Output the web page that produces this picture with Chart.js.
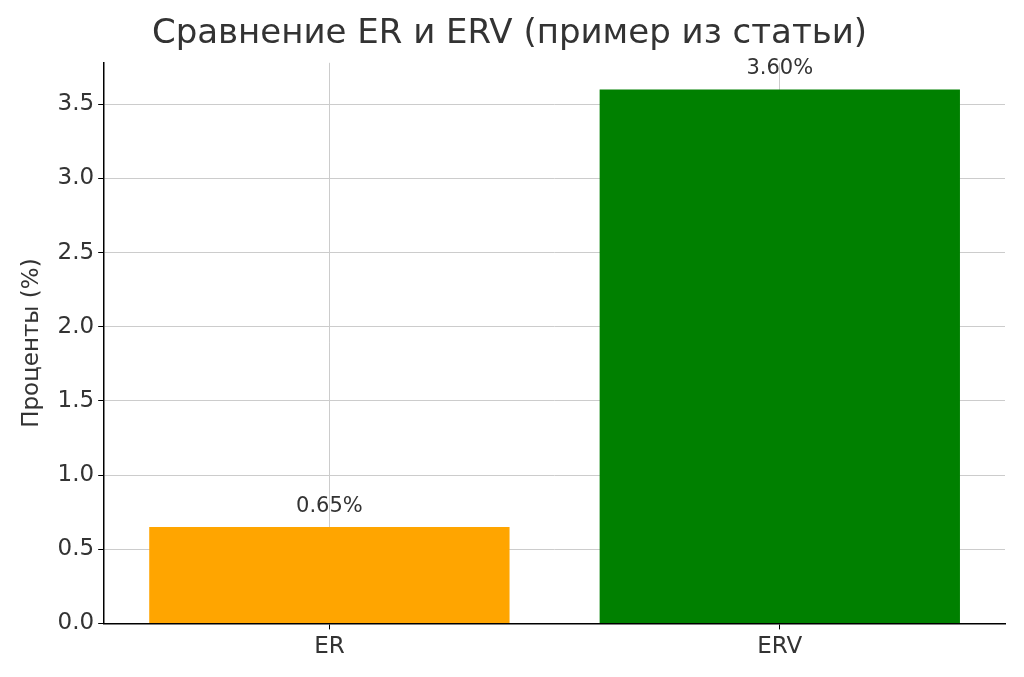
<!DOCTYPE html>
<html>
<head>
<meta charset="utf-8">
<script src="https://cdn.jsdelivr.net/npm/chart.js@4.4.0/dist/chart.umd.min.js"></script>
<style>
  html, body { margin: 0; padding: 0; background: #fff; }
  #wrap { width: 1024px; height: 677px; }
</style>
</head>
<body>
<div id="wrap"><canvas id="chart"></canvas></div>
<script>
const categories = ['ER', 'ERV'];
const values = [0.65, 3.60];
const barColors = ['#FFA500', '#008000'];
const yTicks = [0, 0.5, 1, 1.5, 2, 2.5, 3, 3.5];

// value labels above bars
const valueLabels = {
  id: 'valueLabels',
  afterDatasetsDraw(chart) {
    const ctx = chart.ctx;
    const meta = chart.getDatasetMeta(0);
    ctx.save();
    ctx.font = '21px "DejaVu Sans"';
    ctx.fillStyle = '#333';
    ctx.textAlign = 'center';
    ctx.textBaseline = 'bottom';
    meta.data.forEach((bar, i) => {
      ctx.fillText(values[i].toFixed(2) + '%', bar.x, bar.y - 10);
    });
    ctx.restore();
  }
};

new Chart(document.getElementById('chart'), {
  type: 'bar',
  data: {
    labels: categories,
    datasets: [{
      data: values,
      backgroundColor: barColors,
      categoryPercentage: 1,
      barPercentage: 0.8
    }]
  },
  options: {
    responsive: true,
    maintainAspectRatio: false,
    animation: false,
    layout: { padding: { top: 14, right: 19, left: 14, bottom: 12 } },
    plugins: {
      legend: { display: false },
      tooltip: { enabled: false },
      title: {
        display: true,
        text: 'Сравнение ER и ERV (пример из статьи)',
        color: '#333',
        font: { family: 'DejaVu Sans', size: 34, weight: 'normal' },
        padding: { top: 0, bottom: 8 }
      }
    },
    scales: {
      x: {
        grid: { offset: false, color: '#ccc', tickColor: '#000', tickLength: 6 },
        border: { color: '#000', width: 1.5 },
        ticks: { color: '#333', font: { family: 'DejaVu Sans', size: 23 }, padding: 4 }
      },
      y: {
        min: 0,
        max: 3.78,
        afterBuildTicks(axis) { axis.ticks = yTicks.map(v => ({ value: v })); },
        grid: { color: '#ccc', tickColor: '#000', tickLength: 6 },
        border: { color: '#000', width: 1.5 },
        ticks: {
          color: '#333',
          font: { family: 'DejaVu Sans', size: 23 },
          padding: 4,
          callback: v => v.toFixed(1)
        },
        title: {
          display: true,
          text: 'Проценты (%)',
          color: '#333',
          font: { family: 'DejaVu Sans', size: 23 },
          padding: { bottom: 8 }
        }
      }
    }
  },
  plugins: [valueLabels]
});
</script>
</body>
</html>
